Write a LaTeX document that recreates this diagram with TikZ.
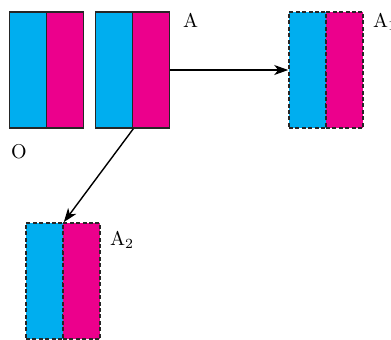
\documentclass[tikz,border=0pt]{standalone}
\usepackage{amsmath}
\usetikzlibrary{arrows.meta}
\definecolor{blockcyan}{RGB}{0,174,239}
\definecolor{blockmag}{RGB}{236,0,140}
\tikzstyle{half}=[draw=black!85,line width=0.8pt,minimum width=18.5pt,minimum height=58pt,inner sep=0pt]
\tikzstyle{ghost}=[half,dashed,dash pattern=on 2pt off 1.2pt]

\begin{document}
\begin{tikzpicture}[x=0.5pt,y=-0.5pt]
\useasboundingbox (0,0) rectangle (391,339);
\node[half,fill=blockcyan] at (28,70) (oL) {};
\node[half,fill=blockmag] at (65,70) (oR) {};
\node[half,fill=blockcyan] at (114,70) (aL) {};
\node[half,fill=blockmag] at (151,70) (aR) {};
\node[ghost,fill=blockcyan] at (307.5,70) (a1L) {};
\node[ghost,fill=blockmag] at (344.5,70) (a1R) {};
\node[ghost,fill=blockcyan] at (44.5,281) (a2L) {};
\node[ghost,fill=blockmag] at (81.5,281) (a2R) {};
\node[anchor=west] at (176,20) (lA) {A};
\node[anchor=west] at (4,152) (lO) {O};
\node[anchor=west] at (366,22) (lA1) {A$_1$};
\node[anchor=west] at (103,240) (lA2) {A$_2$};
\draw[-{Stealth[length=7pt,width=5pt,inset=2pt]}, line width=0.7pt] (aR.east) -- (a1L.west);
\draw[-{Stealth[length=7pt,width=5pt,inset=2pt]}, line width=0.7pt] (aL.south east) -- (a2L.north east);
\end{tikzpicture}
\end{document}
